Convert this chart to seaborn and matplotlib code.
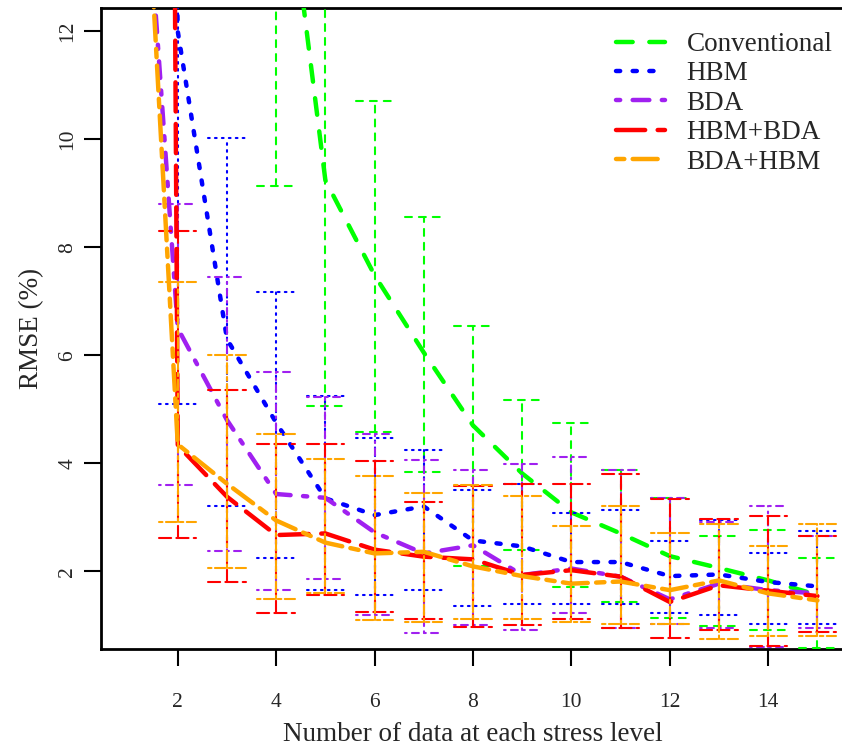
import numpy as np
import pandas as pd
import seaborn as sns
import matplotlib.pyplot as plt

# number of data at each stress level
n_data = [1, 2, 3, 4, 5, 6, 7, 8, 9, 10, 11, 12, 13, 14, 15]
methods = ["Conventional", "HBM", "BDA", "HBM+BDA", "BDA+HBM"]
colors = ["#00FF00", "#0000FF", "#A020F0", "#FF0000", "#FFA500"]

# mean RMSE (%) (x=1 is above the plotted range)
conv_mean = [30.0, 25.0, 20.0, 16.5, 9.24, 7.48, 6.05, 4.70, 3.81, 3.09, 2.70, 2.28, 2.06, 1.83, 1.56]
hbm_mean = [60.0, 12.0, 6.30, 4.75, 3.35, 3.04, 3.20, 2.57, 2.46, 2.17, 2.17, 1.91, 1.94, 1.80, 1.72]
bda_mean = [19.5, 6.50, 4.80, 3.43, 3.36, 2.72, 2.33, 2.48, 1.93, 2.05, 1.90, 1.48, 1.77, 1.65, 1.59]
hbm_bda_mean = [150.0, 4.33, 3.38, 2.67, 2.70, 2.40, 2.27, 2.22, 1.93, 2.02, 1.90, 1.43, 1.74, 1.64, 1.54]
bda_hbm_mean = [21.0, 4.35, 3.62, 2.94, 2.53, 2.33, 2.36, 2.09, 1.91, 1.77, 1.81, 1.65, 1.83, 1.59, 1.46]

# lower / upper ends of the error bars
nan = np.nan
conv_lo = [nan, 15.0, 13.5, 9.14, 5.06, 4.58, 3.84, 2.10, 2.40, 1.70, 1.43, 1.14, 0.99, 0.92, 0.58]
conv_hi = [nan, 35.0, 28.0, 20.0, 14.0, 10.70, 8.56, 6.55, 5.18, 4.74, 3.88, 3.36, 2.65, 2.77, 2.25]
hbm_lo = [nan, 5.10, 3.21, 2.25, 1.66, 1.56, 1.66, 1.36, 1.40, 1.40, 1.40, 1.22, 1.19, 1.03, 1.03]
hbm_hi = [nan, 16.0, 10.03, 7.17, 5.25, 4.47, 4.25, 3.50, 3.62, 3.07, 3.13, 2.56, 2.94, 2.33, 2.74]
bda_lo = [nan, 3.59, 2.37, 1.66, 1.85, 1.19, 0.85, 1.00, 0.91, 1.22, 0.95, 1.03, 0.95, 0.60, 0.95]
bda_hi = [nan, 8.81, 7.44, 5.69, 5.23, 4.55, 4.06, 3.88, 3.99, 4.11, 3.88, 3.36, 2.91, 3.21, 2.65]
hbm_bda_lo = [nan, 2.62, 1.80, 1.22, 1.56, 1.25, 1.11, 0.96, 1.00, 1.11, 0.95, 0.77, 0.92, 0.62, 0.88]
hbm_bda_hi = [nan, 8.31, 5.35, 4.36, 4.36, 4.04, 3.28, 3.58, 3.62, 3.62, 3.81, 3.33, 2.96, 3.02, 2.65]
bda_hbm_lo = [nan, 2.91, 2.06, 1.48, 1.59, 1.10, 1.06, 1.11, 1.11, 1.06, 1.03, 1.03, 0.74, 0.81, 0.81]
bda_hbm_hi = [nan, 7.36, 6.00, 4.55, 4.07, 3.76, 3.44, 3.59, 3.40, 2.84, 3.21, 2.70, 2.87, 2.47, 2.88]

means = [conv_mean, hbm_mean, bda_mean, hbm_bda_mean, bda_hbm_mean]
lows = [conv_lo, hbm_lo, bda_lo, hbm_bda_lo, bda_hbm_lo]
highs = [conv_hi, hbm_hi, bda_hi, hbm_bda_hi, bda_hbm_hi]

# R style line types: dashed, dotted, dotdash, longdash, twodash
lty = [(4, 4), (1, 3), (1, 3, 4, 3), (7, 3), (2, 2, 6, 2)]
main_unit = 3.0   # pt per lty unit for the thick lines
err_unit = 1.25   # pt per lty unit for the error bars
cap_half = 0.38   # half width of error bar caps (x units)

sns.set_theme(style="white")
plt.rcParams["font.family"] = ["Liberation Serif", "DejaVu Serif"]
plt.rcParams["lines.scale_dashes"] = False
plt.rcParams["lines.dash_capstyle"] = "round"
plt.rcParams["lines.solid_capstyle"] = "round"

rows = []
for m, mean in zip(methods, means):
    for x, v in zip(n_data, mean):
        rows.append({"n": x, "rmse": v, "method": m})
df = pd.DataFrame(rows)

fig = plt.figure(figsize=(8.42, 7.48), dpi=100)
ax = fig.add_axes([101 / 842, 99 / 748, 744 / 842, 641.5 / 748])

sns.lineplot(data=df, x="n", y="rmse", hue="method", style="method",
             palette=dict(zip(methods, colors)),
             dashes=dict(zip(methods, [tuple(u * main_unit for u in d) for d in lty])),
             linewidth=3.2, estimator=None, sort=False, legend=False, ax=ax)

for i, line in enumerate(ax.lines[:5]):
    line.set_zorder(3 + i * 0.2)

for i, (c, d) in enumerate(zip(colors, lty)):
    x = np.array(n_data, dtype=float)
    lo = np.array(lows[i])
    hi = np.array(highs[i])
    ls = (0, tuple(u * err_unit for u in d))
    z = 3.1 + i * 0.2
    ax.vlines(x, lo, hi, colors=c, linestyles=ls, linewidth=1.5, zorder=z, capstyle="round")
    ax.hlines(lo, x - cap_half, x + cap_half, colors=c, linestyles=ls, linewidth=1.5, zorder=z, capstyle="round")
    ax.hlines(hi, x - cap_half, x + cap_half, colors=c, linestyles=ls, linewidth=1.5, zorder=z, capstyle="round")

ax.set_xlim(0.44, 15.56)
ax.set_ylim(0.56, 12.44)
ax.set_xticks([2, 4, 6, 8, 10, 12, 14])
ax.set_yticks([2, 4, 6, 8, 10, 12])
ax.tick_params(axis="both", direction="out", length=12, width=1.5, color="black",
               labelsize=15.5, bottom=True, left=True)
ax.tick_params(axis="x", pad=20)
ax.tick_params(axis="y", pad=5)
for lab in ax.get_yticklabels():
    lab.set_rotation(90)
    lab.set_va("center")

for s in ax.spines.values():
    s.set_visible(True)
    s.set_color("black")
    s.set_linewidth(2.0)

ax.set_xlabel("Number of data at each stress level", fontsize=19.5, labelpad=7)
ax.set_ylabel("RMSE (%)", fontsize=19.5, labelpad=10)

ax.legend(ax.lines[:5], methods, loc="upper left", bbox_to_anchor=(616 / 842, 1 - 32 / 748),
          bbox_transform=fig.transFigure, frameon=False, fontsize=19.5,
          handlelength=1.8, handletextpad=0.8, labelspacing=0.165,
          borderpad=0, borderaxespad=0)

fig.savefig("out.png", dpi=100)
